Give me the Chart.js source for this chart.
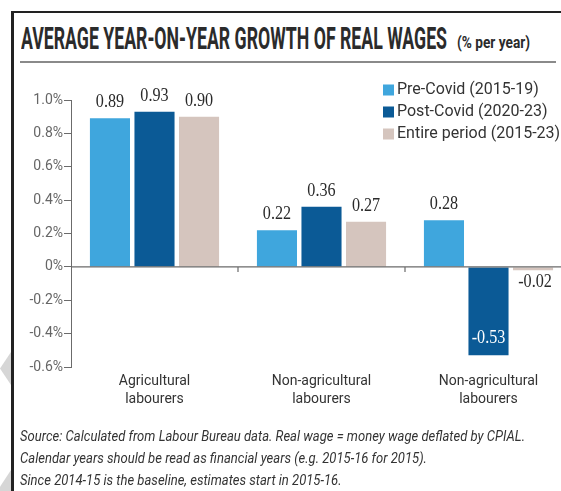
<!DOCTYPE html>
<html>
<head>
<meta charset="utf-8">
<script src="https://cdn.jsdelivr.net/npm/chart.js@4.4.1/dist/chart.umd.min.js"></script>
<style>
  html, body { margin: 0; padding: 0; background: #fff; overflow: hidden; }
  #page { position: relative; width: 561px; height: 491px; overflow: hidden; font-family: Roboto, "Noto Sans", sans-serif; }
  #chartBox { position: absolute; left: 0; top: 0; width: 600px; height: 491px; }
  .frameTop { position: absolute; left: 11px; top: 11px; width: 560px; height: 2px; background: #222; }
  .frameLeft { position: absolute; left: 11px; top: 11px; width: 3px; height: 490px; background: #222; }
  .sep { position: absolute; left: 20px; top: 61px; width: 536px; height: 2px; background: #8a8a8a; }
  .fit { position: absolute; white-space: nowrap; transform-origin: 0 0; line-height: 1; }
  #title { left: 21px; top: 23px; font-size: 31px; font-weight: 700; color: #2b2b2b; }
  #unit { left: 457px; top: 34px; font-size: 17px; font-weight: 700; color: #2b2b2b; }
  .note { left: 20px; font-size: 15px; font-style: italic; color: #333; }
  .deco { position: absolute; background: #d6d6d6; }
</style>
</head>
<body>
<div id="page">
  <div class="deco" style="left:0;top:352px;width:11px;height:33px;clip-path:polygon(0 50%,100% 0,100% 100%);"></div>
  <div class="deco" style="left:0;top:470px;width:11px;height:21px;clip-path:polygon(0 80%,100% 0,100% 100%,0 100%);"></div>
  <div class="frameTop"></div>
  <div class="frameLeft"></div>
  <div class="sep"></div>
  <div id="title" class="fit" data-w="426">AVERAGE YEAR-ON-YEAR GROWTH OF REAL WAGES</div>
  <div id="unit" class="fit" data-w="73">(% per year)</div>
  <div id="chartBox"><canvas id="chart" width="600" height="491"></canvas></div>
  <div class="fit note" id="n1" style="top:429px;" data-w="505">Source: Calculated from Labour Bureau data. Real wage = money wage deflated by CPIAL.</div>
  <div class="fit note" id="n2" style="top:451px;">Calendar years should be read as financial years (e.g. 2015-16 for 2015).</div>
  <div class="fit note" id="n3" style="top:473px;">Since 2014-15 is the baseline, estimates start in 2015-16.</div>
</div>
<script>
// chart data
const categories = [['Agricultural', 'labourers'], ['Non-agricultural', 'labourers'], ['Non-agricultural', 'labourers']];
const seriesNames = ['Pre-Covid (2015-19)', 'Post-Covid (2020-23)', 'Entire period (2015-23)'];
const preCovid = [0.89, 0.22, 0.28];
const postCovid = [0.93, 0.36, -0.53];
const entirePeriod = [0.90, 0.27, -0.02];
const yTicks = [-0.6, -0.4, -0.2, 0, 0.2, 0.4, 0.6, 0.8, 1.0];

const colors = ['#3fa6dd', '#0b5a96', '#d5c5be'];

// squeeze the condensed-looking texts to their widths
function fitTexts() {
  const title = document.getElementById('title');
  const unit = document.getElementById('unit');
  [title, unit].forEach(el => {
    const w = el.getBoundingClientRect().width;
    el.style.transform = 'scaleX(' + (+el.dataset.w / w) + ')';
  });
  const n1 = document.getElementById('n1');
  const k = +n1.dataset.w / n1.getBoundingClientRect().width;
  ['n1', 'n2', 'n3'].forEach(id => {
    document.getElementById(id).style.transform = 'scaleX(' + k + ')';
  });
}
fitTexts();

// zero line, separator ticks, value labels
const barExtras = {
  id: 'barExtras',
  afterDatasetsDraw(chart) {
    const ctx = chart.ctx;
    const x = chart.scales.x;
    const y = chart.scales.y;
    const y0 = y.getPixelForValue(0);
    ctx.save();
    ctx.strokeStyle = '#6b6b6b';
    ctx.lineWidth = 1.2;
    ctx.beginPath();
    ctx.moveTo(chart.chartArea.left, y0);
    ctx.lineTo(chart.chartArea.right, y0);
    for (let i = 0; i < categories.length - 1; i++) {
      const xm = (x.getPixelForValue(i) + x.getPixelForValue(i + 1)) / 2;
      ctx.moveTo(xm, y0);
      ctx.lineTo(xm, y0 + 5);
    }
    ctx.stroke();

    ctx.font = '19px "Liberation Serif", "DejaVu Serif", serif';
    ctx.textAlign = 'center';
    ctx.textBaseline = 'middle';
    const sx = 0.85;
    const put = (txt, px, py, col) => {
      ctx.save();
      ctx.translate(px, py);
      ctx.scale(sx, 1);
      ctx.fillStyle = col;
      ctx.fillText(txt, 0, 0);
      ctx.restore();
    };
    chart.data.datasets.forEach((ds, di) => {
      chart.getDatasetMeta(di).data.forEach((bar, i) => {
        const v = ds.data[i];
        const txt = v.toFixed(2);
        if (v >= 0) {
          put(txt, bar.x, bar.y - 16, '#2a2a2a');
        } else if (Math.abs(bar.y - bar.base) > 30) {
          put(txt, bar.x, bar.y - 17, '#ffffff');
        } else {
          put(txt, bar.x + 2, bar.y + 12, '#2a2a2a');
        }
      });
    });
    ctx.restore();
  },
  afterDraw(chart) {
    // legend in the top-right corner of the plot
    const ctx = chart.ctx;
    ctx.save();
    ctx.font = '16px Roboto, "Noto Sans", sans-serif';
    ctx.textBaseline = 'middle';
    ctx.textAlign = 'left';
    chart.data.datasets.forEach((ds, i) => {
      const cy = 90 + i * 22;
      ctx.fillStyle = ds.backgroundColor;
      ctx.fillRect(383, cy - 5.5, 11, 11);
      ctx.fillStyle = '#333';
      ctx.fillText(ds.label, 397, cy);
    });
    ctx.restore();
  }
};

new Chart(document.getElementById('chart').getContext('2d'), {
  type: 'bar',
  data: {
    labels: categories,
    datasets: [
      { label: seriesNames[0], data: preCovid, backgroundColor: colors[0] },
      { label: seriesNames[1], data: postCovid, backgroundColor: colors[1] },
      { label: seriesNames[2], data: entirePeriod, backgroundColor: colors[2] }
    ]
  },
  options: {
    responsive: false,
    animation: false,
    devicePixelRatio: 1,
    layout: { padding: { top: 100, left: 0, right: 28, bottom: 84 } },
    datasets: { bar: { categoryPercentage: 0.8, barPercentage: 0.9 } },
    plugins: { legend: { display: false }, tooltip: { enabled: false } },
    scales: {
      x: {
        grid: { display: false, drawTicks: false },
        border: { display: false },
        ticks: { color: '#333', padding: 5, font: { family: 'Roboto', size: 14, lineHeight: 1.3 } },
        afterFit(scale) { scale.height = 40; }
      },
      y: {
        min: -0.6,
        max: 1.0,
        afterBuildTicks(scale) { scale.ticks = yTicks.map(v => ({ value: v })); },
        grid: { drawOnChartArea: false, drawTicks: true, tickLength: 7, color: '#6b6b6b' },
        border: { display: true, color: '#6b6b6b' },
        ticks: {
          color: '#666',
          padding: 1,
          font: { family: 'Roboto', size: 14 },
          callback: v => (Math.abs(v) < 1e-9 ? '0%' : (Math.round(v * 10) / 10).toFixed(1) + '%')
        },
        afterFit(scale) { scale.width = 71; }
      }
    }
  },
  plugins: [barExtras]
});
</script>
</body>
</html>
